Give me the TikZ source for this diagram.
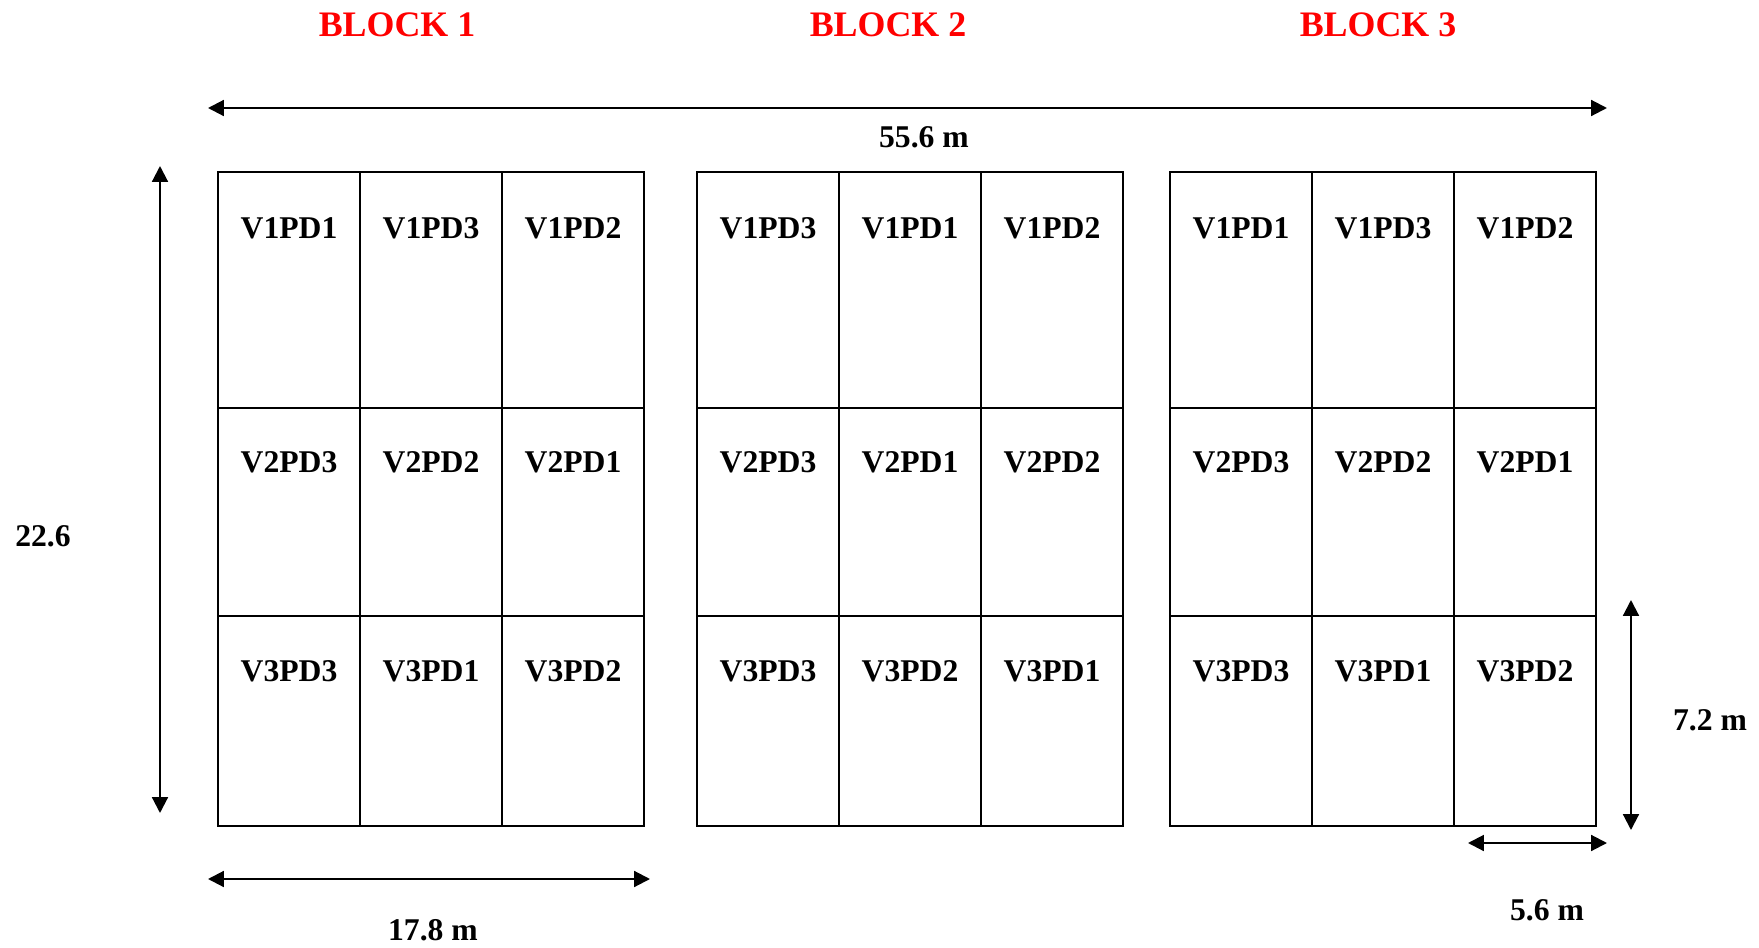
\documentclass[tikz,border=0pt]{standalone}
\usepackage{fontspec}
\setmainfont{Liberation Serif}
\usetikzlibrary{arrows.meta}
\tikzset{grid/.style={line width=0.7pt}}
\tikzset{dim/.style={{Triangle[length=4.5pt,width=4.5pt]}-{Triangle[length=4.5pt,width=4.5pt]},line width=0.6pt}}
\tikzset{plot/.style={inner sep=0pt,font=\bfseries\fontsize{9}{11}\selectfont}}
\tikzset{block/.style={inner sep=0pt,text=red,font=\bfseries\fontsize{10.2}{12}\selectfont}}

\begin{document}
\begin{tikzpicture}[x=0.01cm,y=-0.01cm]
    \useasboundingbox (0,0) rectangle (1759,948);
    % the three blocks
    \foreach \x in {218,697,1170}{
      \draw[grid] (\x,172) rectangle ++(426,654);
      \draw[grid] (\x+142,172) -- (\x+142,826);
      \draw[grid] (\x+284,172) -- (\x+284,826);
      \draw[grid] (\x,408) -- (\x+426,408);
      \draw[grid] (\x,616) -- (\x+426,616);
    }
    \node[block] (blk1) at (397,25) {BLOCK 1};
    \node[block] (blk2) at (888,25) {BLOCK 2};
    \node[block] (blk3) at (1378,25) {BLOCK 3};
    % plots, block 1
    \foreach \c/\p in {1/1,2/3,3/2} \node[plot] (a1c\c) at (147+142*\c,228) {V1PD\p};
    \foreach \c/\p in {1/3,2/2,3/1} \node[plot] (a2c\c) at (147+142*\c,462) {V2PD\p};
    \foreach \c/\p in {1/3,2/1,3/2} \node[plot] (a3c\c) at (147+142*\c,671) {V3PD\p};
    % plots, block 2
    \foreach \c/\p in {1/3,2/1,3/2} \node[plot] (b1c\c) at (626+142*\c,228) {V1PD\p};
    \foreach \c/\p in {1/3,2/1,3/2} \node[plot] (b2c\c) at (626+142*\c,462) {V2PD\p};
    \foreach \c/\p in {1/3,2/2,3/1} \node[plot] (b3c\c) at (626+142*\c,671) {V3PD\p};
    % plots, block 3
    \foreach \c/\p in {1/1,2/3,3/2} \node[plot] (c1c\c) at (1099+142*\c,228) {V1PD\p};
    \foreach \c/\p in {1/3,2/2,3/1} \node[plot] (c2c\c) at (1099+142*\c,462) {V2PD\p};
    \foreach \c/\p in {1/3,2/1,3/2} \node[plot] (c3c\c) at (1099+142*\c,671) {V3PD\p};
    % dimensions
    \coordinate (totL) at (208,108);
    \coordinate (totR) at (1607,108);
    \draw[dim] (totL) -- (totR);
    \node[plot] (tot) at (924,137) {55.6 m};
    \coordinate (lenT) at (160,166);
    \coordinate (lenB) at (160,813);
    \draw[dim] (lenT) -- (lenB);
    \node[plot] (len) at (43,536) {22.6};
    \coordinate (blkL) at (208,879);
    \coordinate (blkR) at (650,879);
    \draw[dim] (blkL) -- (blkR);
    \node[plot] (blkw) at (433,930) {17.8 m};
    \coordinate (plotT) at (1631,600);
    \coordinate (plotB) at (1631,830);
    \draw[dim] (plotT) -- (plotB);
    \node[plot] (ploth) at (1710,720) {7.2 m};
    \coordinate (plotL) at (1468,843);
    \coordinate (plotR) at (1607,843);
    \draw[dim] (plotL) -- (plotR);
    \node[plot] (plotw) at (1547,910) {5.6 m};
  \end{tikzpicture}
\end{document}
